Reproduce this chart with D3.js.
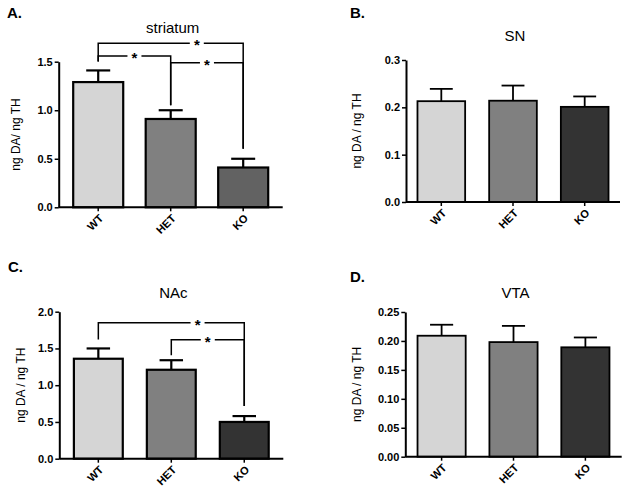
<!DOCTYPE html>
<html>
<head>
<meta charset="utf-8">
<script src="https://cdn.jsdelivr.net/npm/d3@7"></script>
<style>
  body { margin: 0; background: #fff; }
  svg { font-family: "Liberation Sans", Arial, sans-serif; }
  .tick text { font-weight: bold; fill: #000; }
</style>
</head>
<body>
<svg id="chart" width="629" height="495"></svg>
<script>
// groups shared by every panel
var groups = ["WT", "HET", "KO"];

// A. striatum
var striatumMean = [1.29, 0.91, 0.41];
var striatumSem = [0.12, 0.09, 0.09];
var striatumTicks = [0, 0.5, 1.0, 1.5];
// B. SN
var snMean = [0.213, 0.214, 0.201];
var snSem = [0.026, 0.032, 0.022];
var snTicks = [0, 0.1, 0.2, 0.3];
// C. NAc
var nacMean = [1.36, 1.21, 0.50];
var nacSem = [0.14, 0.13, 0.08];
var nacTicks = [0, 0.5, 1.0, 1.5, 2.0];
// D. VTA
var vtaMean = [0.209, 0.198, 0.189];
var vtaSem = [0.019, 0.028, 0.017];
var vtaTicks = [0, 0.05, 0.10, 0.15, 0.20, 0.25];

// significance brackets: [from, to, bracket height in data units]
var striatumSig = [[0, 2, 1.69], [0, 1, 1.56], [1, 2, 1.49]];
var nacSig = [[0, 2, 1.85], [1, 2, 1.62]];

var svg = d3.select("#chart");

var panels = [
  { letter: "A.", title: "striatum", ylabel: "ng DA/ ng TH", mean: striatumMean, sem: striatumSem,
    ticks: striatumTicks, fmt: ".1f", sig: striatumSig, colors: ["#d5d5d5", "#808080", "#626262"],
    left: 58.7, right: 282.7, top: 61.7, bottom: 207.3, pin: 0.31, pout: 0.2, sw: 2.2,
    letterPos: [7, 18], titleY: 33, labelX: 16 },
  { letter: "B.", title: "SN", ylabel: "ng DA / ng TH", mean: snMean, sem: snSem,
    ticks: snTicks, fmt: ".1f", sig: [], colors: ["#d5d5d5", "#808080", "#333333"],
    left: 406, right: 620, top: 60, bottom: 202, pin: 0.335, pout: 0.16, sw: 1.8,
    letterPos: [350, 18], titleY: 41, labelX: 357 },
  { letter: "C.", title: "NAc", ylabel: "ng DA / ng TH", mean: nacMean, sem: nacSem,
    ticks: nacTicks, fmt: ".1f", sig: nacSig, colors: ["#d5d5d5", "#808080", "#333333"],
    left: 59.3, right: 283.3, top: 311.7, bottom: 458.7, pin: 0.33, pout: 0.2, sw: 2.2,
    letterPos: [8, 272], titleY: 298, labelX: 21 },
  { letter: "D.", title: "VTA", ylabel: "ng DA / ng TH", mean: vtaMean, sem: vtaSem,
    ticks: vtaTicks, fmt: ".2f", sig: [], colors: ["#d5d5d5", "#808080", "#333333"],
    left: 405.3, right: 621.7, top: 312, bottom: 456.7, pin: 0.33, pout: 0.17, sw: 1.8,
    letterPos: [350, 282], titleY: 298, labelX: 357 }
];

panels.forEach(function(p) {
  var g = svg.append("g");

  var x = d3.scaleBand()
      .domain(groups)
      .range([p.left, p.right])
      .paddingInner(p.pin)
      .paddingOuter(p.pout);

  var y = d3.scaleLinear()
      .domain([0, d3.max(p.ticks)])
      .range([p.bottom, p.top]);

  var rows = groups.map(function(k, i) {
    return { key: k, mean: p.mean[i], sem: p.sem[i], color: p.colors[i] };
  });

  // error bars (upper only) behind bars
  var capHalf = x.bandwidth() * 0.24;
  rows.forEach(function(d) {
    var cx = x(d.key) + x.bandwidth() / 2;
    g.append("line")
      .attr("x1", cx).attr("x2", cx)
      .attr("y1", y(d.mean)).attr("y2", y(d.mean + d.sem))
      .attr("stroke", "#000").attr("stroke-width", p.sw);
    g.append("line")
      .attr("x1", cx - capHalf).attr("x2", cx + capHalf)
      .attr("y1", y(d.mean + d.sem)).attr("y2", y(d.mean + d.sem))
      .attr("stroke", "#000").attr("stroke-width", p.sw);
  });

  g.selectAll("rect.bar")
    .data(rows)
    .enter().append("rect")
      .attr("class", "bar")
      .attr("x", function(d) { return x(d.key); })
      .attr("y", function(d) { return y(d.mean); })
      .attr("width", x.bandwidth())
      .attr("height", function(d) { return y(0) - y(d.mean); })
      .attr("fill", function(d) { return d.color; })
      .attr("stroke", "#000")
      .attr("stroke-width", p.sw);

  // axes
  var yAxis = g.append("g")
      .attr("transform", "translate(" + p.left + ",0)")
      .call(d3.axisLeft(y).tickValues(p.ticks).tickFormat(d3.format(p.fmt)).tickSize(4).tickPadding(2).tickSizeOuter(0));
  yAxis.selectAll("text").style("font-size", "11px");

  var xAxis = g.append("g")
      .attr("transform", "translate(0," + p.bottom + ")")
      .call(d3.axisBottom(x).tickSize(4).tickSizeOuter(0));
  xAxis.select(".domain").attr("d", "M" + p.left + ",0H" + p.right);
  xAxis.selectAll("text")
      .style("font-size", "11px")
      .attr("text-anchor", "end")
      .attr("dy", "0.35em")
      .attr("transform", "translate(3,9) rotate(-45)")
      .attr("x", 0).attr("y", 0);

  [yAxis, xAxis].forEach(function(a) {
    a.select(".domain").attr("stroke-width", 2);
    a.selectAll(".tick line").attr("stroke-width", 1.5);
  });

  // labels
  g.append("text")
    .attr("x", p.letterPos[0]).attr("y", p.letterPos[1])
    .style("font-size", "15px").style("font-weight", "bold")
    .text(p.letter);

  g.append("text")
    .attr("x", (p.left + p.right) / 2 + 2).attr("y", p.titleY)
    .attr("text-anchor", "middle")
    .style("font-size", "15px")
    .text(p.title);

  g.append("text")
    .attr("transform", "translate(" + p.labelX + "," + ((p.top + p.bottom) / 2) + ") rotate(-90)")
    .attr("text-anchor", "middle")
    .attr("dy", "0.35em")
    .style("font-size", "12px")
    .text(p.ylabel);

  // significance brackets
  p.sig.forEach(function(s) {
    var x1 = x(groups[s[0]]) + x.bandwidth() / 2;
    var x2 = x(groups[s[1]]) + x.bandwidth() / 2;
    var yy = y(s[2]);
    var frac = (s[1] - s[0] > 1) ? 0.68 : 0.5;
    var sx = x1 + (x2 - x1) * frac;
    var gap = 7;
    var drop1 = y(p.mean[s[0]] + p.sem[s[0]]) - (s[0] === 1 ? 5 : 9);
    var drop2 = y(p.mean[s[1]] + p.sem[s[1]]) - (s[1] === 1 ? 5 : 10);
    var path = "M" + x1 + "," + drop1 + "V" + yy + "H" + (sx - gap) +
               "M" + (sx + gap) + "," + yy + "H" + x2 + "V" + drop2;
    g.append("path")
      .attr("d", path)
      .attr("fill", "none")
      .attr("stroke", "#000")
      .attr("stroke-width", 1.5);
    g.append("text")
      .attr("x", sx).attr("y", yy + 7)
      .attr("text-anchor", "middle")
      .style("font-size", "15px").style("font-weight", "bold")
      .text("*");
  });
});
</script>
</body>
</html>
